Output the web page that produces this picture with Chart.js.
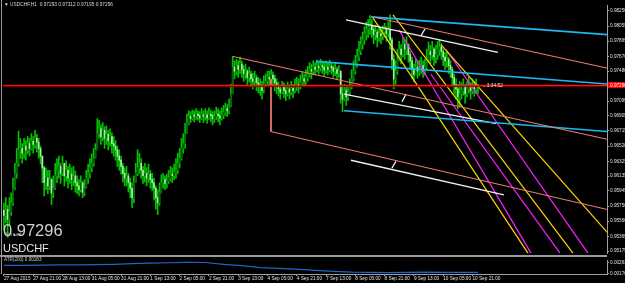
<!DOCTYPE html>
<html>
<head>
<meta charset="utf-8">
<script src="https://cdn.jsdelivr.net/npm/chart.js@4.4.0/dist/chart.umd.min.js"></script>
<style>
  html, body { margin: 0; padding: 0; background: #000; }
  #wrap { position: relative; width: 625px; height: 283px; overflow: hidden; background: #000; font-family: "Liberation Sans", Arial, sans-serif; }
  canvas { position: absolute; left: 0; }
  #main { top: 0; }
  #atr { top: 257px; }
  .txt { position: absolute; white-space: nowrap; color: #d8d8d8; line-height: 1; }
  .rule { position: absolute; background: #9a9a9a; }
</style>
</head>
<body>
<div id="wrap">
  <canvas id="main" width="625" height="257" style="width:625px;height:257px"></canvas>
  <canvas id="atr" width="625" height="26" style="width:625px;height:26px"></canvas>
  <div class="rule" style="left:0;top:255px;width:607px;height:2px"></div>
  <div class="rule" style="left:1px;top:0;width:1px;height:274px"></div>
  <div class="txt" style="left:4px;top:3px;font-size:4.8px">▼ USDCHF,H1&nbsp; 0.97293 0.97312 0.97195 0.97296</div>
  <div class="txt" style="left:5px;top:232px;font-size:5px;color:#9a9a9a">Spread:</div>
  <div class="txt" style="left:3px;top:222px;font-size:16.5px;color:#cfcfcf">0.97296</div>
  <div class="txt" style="left:3px;top:243px;font-size:11px;color:#e6e6e6">USDCHF</div>
  <div class="txt" style="left:4px;top:258px;font-size:4.6px;color:#cfcfcf">ATR(200) 0.00183</div>
  <div class="txt" style="left:482px;top:84px;font-size:4.8px;color:#e0e0e0">←3:34:52</div>
</div>
<script>
// USDCHF H1, 27 Aug 2015 - 10 Sep 2015, one entry per bar (open = previous close)
var firstOpen = 0.9570;
var closes = [
  0.9563,0.9571,0.9558,0.9568,0.9579,0.9598,0.9617,0.9630,0.9647,0.9649,
  0.9643,0.9652,0.9647,0.9655,0.9649,0.9658,0.9654,0.9662,0.9657,0.9649,
  0.9639,0.9624,0.9605,0.9611,0.9601,0.9609,0.9592,0.9598,0.9614,0.9621,
  0.9626,0.9617,0.9630,0.9614,0.9621,0.9611,0.9616,0.9609,0.9614,0.9605,
  0.9601,0.9596,0.9605,0.9593,0.9598,0.9611,0.9617,0.9624,0.9630,0.9636,
  0.9647,0.9668,0.9674,0.9664,0.9672,0.9662,0.9667,0.9659,0.9664,0.9655,
  0.9652,0.9647,0.9639,0.9634,0.9626,0.9617,0.9611,0.9614,0.9605,0.9598,
  0.9586,0.9605,0.9617,0.9624,0.9630,0.9621,0.9614,0.9617,0.9611,0.9616,
  0.9609,0.9605,0.9598,0.9586,0.9579,0.9592,0.9605,0.9609,0.9604,0.9607,
  0.9611,0.9616,0.9614,0.9619,0.9621,0.9630,0.9636,0.9649,0.9655,0.9668,
  0.9681,0.9690,0.9687,0.9692,0.9690,0.9693,0.9691,0.9688,0.9692,0.9690,
  0.9692,0.9688,0.9693,0.9691,0.9687,0.9690,0.9693,0.9691,0.9688,0.9692,
  0.9695,0.9700,0.9697,0.9702,0.9719,0.9753,0.9748,0.9755,0.9750,0.9757,
  0.9750,0.9745,0.9748,0.9740,0.9744,0.9738,0.9735,0.9739,0.9733,0.9730,
  0.9728,0.9723,0.9731,0.9735,0.9740,0.9738,0.9743,0.9738,0.9733,0.9728,
  0.9725,0.9721,0.9728,0.9723,0.9719,0.9725,0.9721,0.9726,0.9723,0.9728,
  0.9731,0.9728,0.9733,0.9738,0.9735,0.9740,0.9744,0.9750,0.9748,0.9753,
  0.9750,0.9754,0.9752,0.9755,0.9753,0.9749,0.9753,0.9750,0.9754,0.9752,
  0.9748,0.9750,0.9745,0.9748,0.9719,0.9712,0.9723,0.9715,0.9720,0.9728,
  0.9738,0.9748,0.9757,0.9766,0.9773,0.9782,0.9788,0.9795,0.9801,0.9804,
  0.9807,0.9801,0.9795,0.9798,0.9791,0.9796,0.9793,0.9798,0.9801,0.9796,
  0.9801,0.9788,0.9763,0.9738,0.9748,0.9763,0.9776,0.9769,0.9782,0.9776,
  0.9782,0.9769,0.9761,0.9750,0.9744,0.9753,0.9748,0.9750,0.9755,0.9748,
  0.9753,0.9763,0.9773,0.9769,0.9776,0.9766,0.9769,0.9776,0.9779,0.9773,
  0.9766,0.9761,0.9763,0.9755,0.9750,0.9740,0.9731,0.9725,0.9715,0.9719,
  0.9723,0.9728,0.9719,0.9725,0.9730,0.9723,0.9728,0.9725,0.97293,0.97296
];
var highs = [
  0.9579,0.9586,0.9576,0.9586,0.9592,0.9611,0.9630,0.9649,0.9671,0.9662,
  0.9655,0.9662,0.9659,0.9664,0.9662,0.9668,0.9664,0.9672,0.9667,0.9662,
  0.9652,0.9639,0.9626,0.9624,0.9621,0.9621,0.9611,0.9614,0.9630,0.9636,
  0.9639,0.9630,0.9639,0.9630,0.9633,0.9626,0.9629,0.9624,0.9626,0.9620,
  0.9614,0.9609,0.9614,0.9607,0.9609,0.9621,0.9629,0.9636,0.9642,0.9649,
  0.9655,0.9687,0.9685,0.9679,0.9682,0.9677,0.9678,0.9672,0.9674,0.9669,
  0.9664,0.9659,0.9652,0.9647,0.9639,0.9630,0.9624,0.9626,0.9617,0.9611,
  0.9605,0.9614,0.9630,0.9647,0.9643,0.9636,0.9626,0.9630,0.9624,0.9629,
  0.9621,0.9617,0.9611,0.9601,0.9596,0.9605,0.9615,0.9617,0.9614,0.9616,
  0.9621,0.9626,0.9624,0.9629,0.9636,0.9643,0.9649,0.9662,0.9668,0.9681,
  0.9693,0.9697,0.9696,0.9698,0.9697,0.9700,0.9697,0.9696,0.9700,0.9697,
  0.9700,0.9697,0.9701,0.9698,0.9696,0.9697,0.9702,0.9700,0.9697,0.9701,
  0.9704,0.9707,0.9705,0.9712,0.9731,0.9767,0.9761,0.9763,0.9761,0.9766,
  0.9761,0.9755,0.9757,0.9750,0.9753,0.9748,0.9745,0.9748,0.9743,0.9740,
  0.9738,0.9735,0.9742,0.9744,0.9748,0.9748,0.9750,0.9747,0.9743,0.9738,
  0.9734,0.9730,0.9735,0.9733,0.9728,0.9734,0.9730,0.9735,0.9731,0.9738,
  0.9740,0.9738,0.9743,0.9747,0.9744,0.9750,0.9754,0.9759,0.9757,0.9761,
  0.9759,0.9762,0.9759,0.9763,0.9761,0.9758,0.9761,0.9759,0.9762,0.9759,
  0.9755,0.9758,0.9753,0.9755,0.9748,0.9728,0.9731,0.9728,0.9730,0.9738,
  0.9750,0.9761,0.9768,0.9776,0.9786,0.9792,0.9798,0.9805,0.9811,0.9814,
  0.9819,0.9814,0.9806,0.9807,0.9801,0.9806,0.9804,0.9806,0.9809,0.9805,
  0.9811,0.9820,0.9791,0.9769,0.9761,0.9776,0.9786,0.9782,0.9791,0.9788,
  0.9792,0.9783,0.9773,0.9766,0.9757,0.9763,0.9761,0.9762,0.9766,0.9761,
  0.9763,0.9776,0.9785,0.9781,0.9786,0.9778,0.9781,0.9786,0.9788,0.9783,
  0.9776,0.9772,0.9773,0.9766,0.9761,0.9753,0.9744,0.9738,0.9731,0.9735,
  0.9733,0.9738,0.9731,0.9735,0.9740,0.9733,0.9738,0.9735,0.9738,0.97312
];
var lows = [
  0.9545,0.9554,0.9535,0.9550,0.9563,0.9576,0.9596,0.9611,0.9626,0.9636,
  0.9630,0.9636,0.9634,0.9642,0.9639,0.9647,0.9643,0.9649,0.9644,0.9636,
  0.9629,0.9605,0.9588,0.9596,0.9591,0.9596,0.9577,0.9586,0.9596,0.9605,
  0.9611,0.9604,0.9614,0.9601,0.9607,0.9598,0.9604,0.9596,0.9601,0.9593,
  0.9591,0.9588,0.9593,0.9586,0.9588,0.9598,0.9604,0.9611,0.9619,0.9626,
  0.9636,0.9652,0.9662,0.9654,0.9659,0.9649,0.9654,0.9647,0.9652,0.9643,
  0.9639,0.9634,0.9626,0.9621,0.9616,0.9606,0.9601,0.9601,0.9593,0.9586,
  0.9573,0.9579,0.9605,0.9614,0.9617,0.9611,0.9604,0.9606,0.9601,0.9605,
  0.9598,0.9595,0.9583,0.9571,0.9564,0.9576,0.9596,0.9598,0.9596,0.9598,
  0.9604,0.9607,0.9605,0.9609,0.9611,0.9617,0.9624,0.9634,0.9643,0.9649,
  0.9668,0.9679,0.9682,0.9685,0.9683,0.9686,0.9685,0.9682,0.9686,0.9682,
  0.9685,0.9681,0.9686,0.9683,0.9679,0.9682,0.9686,0.9683,0.9679,0.9685,
  0.9687,0.9691,0.9690,0.9693,0.9702,0.9719,0.9738,0.9743,0.9740,0.9745,
  0.9740,0.9735,0.9738,0.9730,0.9734,0.9728,0.9725,0.9729,0.9723,0.9720,
  0.9717,0.9712,0.9720,0.9728,0.9730,0.9729,0.9733,0.9728,0.9723,0.9719,
  0.9716,0.9712,0.9719,0.9714,0.9710,0.9716,0.9712,0.9717,0.9714,0.9720,
  0.9723,0.9720,0.9725,0.9729,0.9728,0.9731,0.9735,0.9740,0.9738,0.9743,
  0.9743,0.9747,0.9744,0.9748,0.9745,0.9742,0.9745,0.9743,0.9747,0.9744,
  0.9740,0.9742,0.9738,0.9740,0.9707,0.9696,0.9710,0.9704,0.9710,0.9717,
  0.9725,0.9735,0.9744,0.9753,0.9761,0.9769,0.9776,0.9782,0.9788,0.9791,
  0.9795,0.9791,0.9783,0.9788,0.9779,0.9786,0.9783,0.9788,0.9791,0.9786,
  0.9791,0.9776,0.9750,0.9725,0.9731,0.9744,0.9761,0.9757,0.9766,0.9763,
  0.9769,0.9759,0.9750,0.9738,0.9734,0.9743,0.9739,0.9742,0.9745,0.9740,
  0.9743,0.9750,0.9761,0.9757,0.9763,0.9755,0.9758,0.9763,0.9768,0.9763,
  0.9755,0.9750,0.9753,0.9745,0.9740,0.9728,0.9719,0.9712,0.9700,0.9702,
  0.9712,0.9717,0.9707,0.9715,0.9720,0.9712,0.9719,0.9716,0.9720,0.97195
];

// ATR(200) sampled every 10 bars
var atrIdx = [0,10,20,30,40,50,60,70,80,90,100,110,120,130,140,150,160,170,180,190,200,210,220,230,240,250,259];
var atrVal = [0.00241,0.00242,0.00243,0.00245,0.00246,0.00247,0.00250,0.00255,0.00260,0.00263,0.00266,0.00265,0.00249,0.00240,0.00223,0.00216,0.00210,0.00200,0.00192,0.00186,0.00184,0.00182,0.00183,0.00186,0.00184,0.00183,0.00183];

// axis labels
var priceTicks = [0.98250,0.98055,0.97865,0.97670,0.97480,0.97290,0.97095,0.96905,0.96715,0.96520,0.96325,0.96135,0.95945,0.95750,0.95560,0.95365,0.95175];
var atrTicks = [0.00263, 0.00176];
var timeIdx = [0,16,32,48,64,80,96,112,128,144,160,176,192,208,224,240,256];
var timeLabels = ['27 Aug 2015','27 Aug 21:00','28 Aug 13:00','31 Aug 05:00','31 Aug 21:00','1 Sep 13:00','2 Sep 05:00','2 Sep 21:00','3 Sep 13:00','4 Sep 05:00','4 Sep 21:00','7 Sep 13:00','8 Sep 05:00','8 Sep 21:00','9 Sep 13:00','10 Sep 05:00','10 Sep 21:00'];

// drawn objects: [bar1, price1, bar2, price2]
var cyanLines = [[200.5,0.98174,330.1,0.97946],[170.5,0.97604,330.1,0.97313],[185.8,0.96971,330.1,0.96705]];
var salmonLines = [[201.6,0.98174,330.1,0.97515],[125.1,0.97667,330.1,0.96604],[145.9,0.96705,330.1,0.95705],[145.9,0.97376,145.9,0.96705]];
var whiteLines = [[186.9,0.98136,269.9,0.97718],[185.8,0.97186,268.9,0.96806],[189.6,0.96338,273.2,0.95895],
                  [227.9,0.97933,230.1,0.98022],[217.5,0.97085,219.7,0.97186],[212.0,0.96237,214.2,0.96325]];
var yellowLines = [[201.6,0.98161,286.3,0.95148],[212.6,0.98199,310.9,0.95148],[238.8,0.97819,330.1,0.95401]];
var magentaLines = [[215.8,0.98009,288.0,0.95148],[233.3,0.97439,303.8,0.95148],[241.5,0.97756,319.1,0.95148]];

var bidPrice = 0.97296;
var xMin = -0.5, xMax = 329.5;
var yMin = 0.95148, yMax = 0.98326;

var axisColor = '#a0a0a0';
var labelColor = '#e0e0e0';
var tinyFont = { family: 'Liberation Sans', size: 4.7 };

// candles
var wickData = [], bodyData = [], bodyColors = [];
for (var i = 0; i < closes.length; i++) {
  var o = i === 0 ? firstOpen : closes[i - 1];
  var c = closes[i];
  wickData.push({ x: i, y: [Math.min(lows[i], o, c), Math.max(highs[i], o, c)] });
  bodyData.push({ x: i, y: [o, c] });
  bodyColors.push(c >= o ? '#0a5c0a' : '#a8f0a8');
}

function lineSets(list, color, width) {
  return list.map(function (l) {
    return {
      type: 'line', data: [{ x: l[0], y: l[1] }, { x: l[2], y: l[3] }],
      borderColor: color, borderWidth: width, pointRadius: 0, fill: false, order: 1
    };
  });
}

var datasets = [
  { type: 'bar', data: wickData, backgroundColor: '#00c000', barThickness: 1, grouped: false, order: 20 },
  { type: 'bar', data: bodyData, backgroundColor: bodyColors, barThickness: 1, grouped: false, order: 19 }
];
datasets = datasets
  .concat(lineSets(salmonLines, '#f08070', 1))
  .concat(lineSets(cyanLines, '#1ab8f0', 1.6))
  .concat(lineSets(whiteLines, '#f0f0f0', 1.3))
  .concat(lineSets(yellowLines, '#ffd700', 1.2))
  .concat(lineSets(magentaLines, '#ff20ff', 1.2));
datasets.push({ type: 'line', data: [{ x: xMin, y: bidPrice }, { x: xMax, y: bidPrice }], borderColor: '#ff1010', borderWidth: 1.2, pointRadius: 0, order: 0 });
datasets.push({ type: 'line', data: [{ x: xMin, y: 0.97280 }, { x: xMax, y: 0.97280 }], borderColor: '#8a0000', borderWidth: 1, pointRadius: 0, order: 0 });

// red price box on the price scale
var priceBox = {
  id: 'priceBox',
  afterDraw: function (chart) {
    var s = chart.scales.y, ctx = chart.ctx;
    var py = Math.round(s.getPixelForValue(bidPrice));
    ctx.save();
    ctx.fillStyle = '#ff0000';
    ctx.fillRect(s.left + 1, py - 3, 18, 6);
    ctx.fillStyle = '#ffffff';
    ctx.font = '4.7px "Liberation Sans"';
    ctx.textBaseline = 'middle';
    ctx.fillText(bidPrice.toFixed(5), s.left + 3, py + 0.5);
    ctx.restore();
  }
};

new Chart(document.getElementById('main').getContext('2d'), {
  type: 'bar',
  data: { datasets: datasets },
  options: {
    responsive: false, animation: false, events: [],
    layout: { padding: { left: 3, top: 5, right: 0, bottom: 1 } },
    plugins: { legend: { display: false }, tooltip: { enabled: false } },
    scales: {
      x: { type: 'linear', min: xMin, max: xMax, offset: false, display: false },
      y: {
        position: 'right', min: yMin, max: yMax,
        afterBuildTicks: function (s) { s.ticks = priceTicks.map(function (v) { return { value: v }; }); },
        afterFit: function (s) { s.width = 18; },
        ticks: { color: labelColor, font: tinyFont, padding: 1, callback: function (v) { return v.toFixed(5); } },
        grid: { drawOnChartArea: false, drawTicks: true, tickLength: 2, color: axisColor },
        border: { display: true, color: axisColor }
      }
    }
  },
  plugins: [priceBox]
});

// ATR pane with the time axis
new Chart(document.getElementById('atr').getContext('2d'), {
  type: 'line',
  data: {
    datasets: [{
      data: atrIdx.map(function (x, k) { return { x: x, y: atrVal[k] }; }),
      borderColor: '#1a66cc', borderWidth: 1.2, pointRadius: 0, fill: false
    }]
  },
  options: {
    responsive: false, animation: false, events: [],
    layout: { padding: { left: 3, top: 0, right: 0, bottom: 0 } },
    plugins: { legend: { display: false }, tooltip: { enabled: false } },
    scales: {
      x: {
        type: 'linear', min: xMin, max: xMax, offset: false,
        afterBuildTicks: function (s) { s.ticks = timeIdx.map(function (v) { return { value: v }; }); },
        afterFit: function (s) { s.height = 9; },
        ticks: { autoSkip: false, maxRotation: 0, align: 'start', color: labelColor, font: tinyFont, padding: 0,
          callback: function (v) { return timeLabels[timeIdx.indexOf(v)]; } },
        grid: { drawOnChartArea: false, drawTicks: true, tickLength: 2, color: axisColor },
        border: { display: true, color: axisColor }
      },
      y: {
        position: 'right', min: 0.00170, max: 0.00279,
        afterBuildTicks: function (s) { s.ticks = atrTicks.map(function (v) { return { value: v }; }); },
        afterFit: function (s) { s.width = 18; },
        ticks: { color: labelColor, font: tinyFont, padding: 1, callback: function (v) { return v.toFixed(5); } },
        grid: { drawOnChartArea: false, drawTicks: true, tickLength: 2, color: axisColor },
        border: { display: true, color: axisColor }
      }
    }
  }
});
</script>
</body>
</html>
